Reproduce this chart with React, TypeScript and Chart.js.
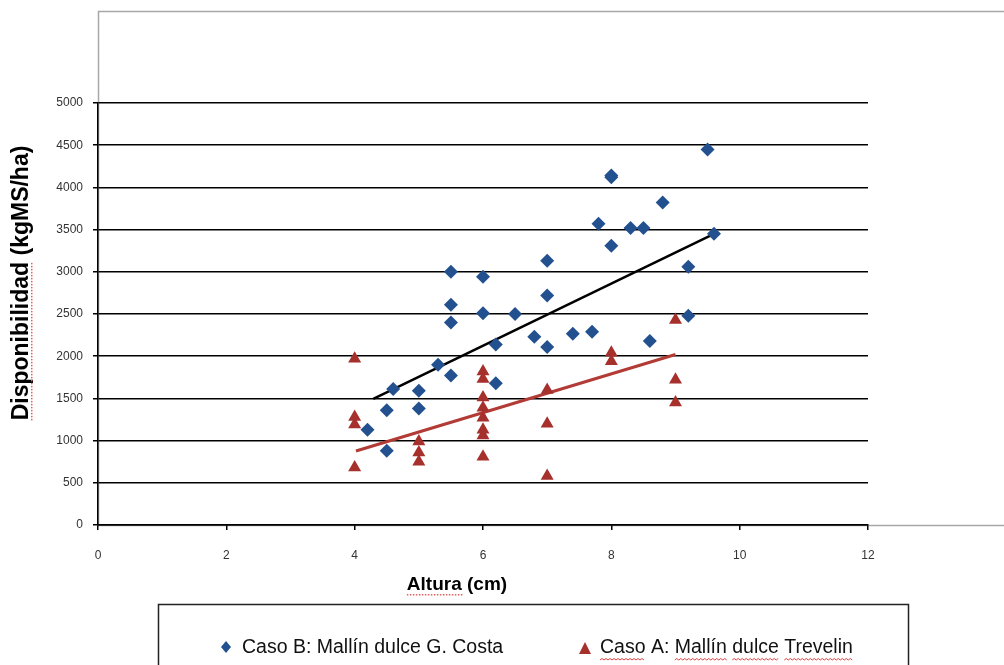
import React, { useEffect, useRef } from "react";
import { Chart, registerables } from "chart.js";

Chart.register(...registerables);

// ---- Data ----
const casoBX = [4.2, 4.5, 4.5, 4.6, 5, 5, 5.3, 5.5, 5.5, 5.5, 5.5, 6, 6, 6.2, 6.2, 6.5, 6.8, 7, 7, 7, 7.4, 7.7, 7.8, 8, 8, 8, 8.3, 8.5, 8.6, 8.8, 9.2, 9.2, 9.5, 9.6];
const casoBY = [1130, 880, 1360, 1610, 1380, 1590, 1900, 1770, 2400, 2610, 3000, 2510, 2940, 2140, 1680, 2500, 2230, 2110, 2720, 3130, 2265, 2290, 3570, 3310, 4120, 4140, 3520, 3520, 2180, 3820, 3060, 2480, 4450, 3450];

const casoAX = [4, 4, 4, 4, 5, 5, 5, 6, 6, 6, 6, 6, 6, 6, 6, 7, 7, 7, 8, 8, 9, 9, 9];
const casoAY = [1970, 1280, 1190, 680, 990, 860, 750, 1820, 1730, 1510, 1390, 1270, 1130, 1060, 810, 1600, 1200, 580, 2040, 1940, 2430, 1720, 1450];

const trendBX = [4.29, 9.6];
const trendBY = [1495, 3450];
const trendAX = [4.02, 9.0];
const trendAY = [877, 2020];

const xTicks = [0, 2, 4, 6, 8, 10, 12];
const yTicks = [0, 500, 1000, 1500, 2000, 2500, 3000, 3500, 4000, 4500, 5000];

const seriesLabels = ["Caso B: Mallín dulce G. Costa", "Caso A: Mallín dulce Trevelin"];
const xTitle = "Altura (cm)";
const yTitle = "Disponibilidad (kgMS/ha)";

const BLUE = "#23518f";
const RED = "#a5302c";
const RED_LINE = "#b23b36";
const FONT = "'Liberation Sans', Arial, sans-serif";

function wavy(ctx: CanvasRenderingContext2D, x0: number, x1: number, y: number) {
  ctx.save();
  ctx.strokeStyle = "#e04040";
  ctx.lineWidth = 1;
  ctx.beginPath();
  let up = true;
  ctx.moveTo(x0, y);
  for (let x = x0 + 2; x <= x1; x += 2) {
    ctx.lineTo(x, up ? y - 1.5 : y);
    up = !up;
  }
  ctx.stroke();
  ctx.restore();
}

function dotted(ctx: CanvasRenderingContext2D, x0: number, x1: number, y: number) {
  ctx.save();
  ctx.fillStyle = "#e06060";
  for (let x = x0; x <= x1; x += 3) ctx.fillRect(x, y, 1.5, 1.5);
  ctx.restore();
}

const decorPlugin = {
  id: "decor",
  beforeDraw(chart: any) {
    const ctx = chart.ctx;
    ctx.save();
    ctx.strokeStyle = "#a8a8a8";
    ctx.lineWidth = 1.5;
    ctx.strokeRect(98.5, 11.5, 1100, 514);
    ctx.restore();
  },
  afterDraw(chart: any) {
    const ctx: CanvasRenderingContext2D = chart.ctx;
    ctx.save();
    // x title
    ctx.fillStyle = "#000";
    ctx.font = `bold 19px ${FONT}`;
    ctx.textAlign = "center";
    ctx.textBaseline = "middle";
    ctx.fillText(xTitle, 457, 585);
    {
      const w = ctx.measureText(xTitle).width;
      const wA = ctx.measureText("Altura").width;
      const x0 = 457 - w / 2;
      dotted(ctx, x0, x0 + wA, 594);
    }

    // y title
    ctx.save();
    ctx.translate(22, 283);
    ctx.rotate(-Math.PI / 2);
    ctx.font = `bold 23px ${FONT}`;
    ctx.fillText(yTitle, 0, 0);
    {
      const w = ctx.measureText(yTitle).width;
      const wD = ctx.measureText("Disponibilidad").width;
      const x0 = -w / 2;
      dotted(ctx, x0, x0 + wD, 9);
    }
    ctx.restore();

    // legend box
    ctx.strokeStyle = "#222";
    ctx.lineWidth = 1.5;
    ctx.strokeRect(158.5, 604.5, 750, 100);

    // legend markers
    ctx.fillStyle = BLUE;
    ctx.beginPath();
    ctx.moveTo(226, 641);
    ctx.lineTo(231, 647);
    ctx.lineTo(226, 653);
    ctx.lineTo(221, 647);
    ctx.closePath();
    ctx.fill();

    ctx.fillStyle = RED;
    ctx.beginPath();
    ctx.moveTo(585, 642);
    ctx.lineTo(591, 654);
    ctx.lineTo(579, 654);
    ctx.closePath();
    ctx.fill();

    ctx.fillStyle = "#111";
    ctx.font = `19.5px ${FONT}`;
    ctx.textAlign = "left";
    ctx.textBaseline = "middle";
    ctx.fillText(seriesLabels[0], 242, 648);
    ctx.fillText(seriesLabels[1], 600, 648);
    {
      const t = seriesLabels[1];
      const words = ["Caso", "Mallín", "dulce", "Trevelin"];
      let searchFrom = 0;
      for (const wd of words) {
        const idx = t.indexOf(wd, searchFrom);
        searchFrom = idx + wd.length;
        const xs = 600 + ctx.measureText(t.slice(0, idx)).width;
        const xe = xs + ctx.measureText(wd).width;
        wavy(ctx, xs, xe, 660);
      }
    }
    ctx.restore();
  },
};

export default function App() {
  const ref = useRef<HTMLCanvasElement>(null);

  useEffect(() => {
    const canvas = ref.current;
    if (!canvas) return;
    const chart = new Chart(canvas, {
      type: "scatter",
      data: {
        datasets: [
          {
            label: "trendB",
            data: trendBX.map((x, i) => ({ x, y: trendBY[i] })),
            showLine: true,
            borderColor: "#000",
            borderWidth: 2.5,
            pointRadius: 0,
            fill: false,
            order: 3,
          },
          {
            label: "trendA",
            data: trendAX.map((x, i) => ({ x, y: trendAY[i] })),
            showLine: true,
            borderColor: RED_LINE,
            borderWidth: 3,
            pointRadius: 0,
            fill: false,
            order: 3,
          },
          {
            label: seriesLabels[0],
            data: casoBX.map((x, i) => ({ x, y: casoBY[i] })),
            pointStyle: "rectRot",
            pointRadius: 7,
            backgroundColor: BLUE,
            borderColor: BLUE,
            borderWidth: 0,
            order: 1,
          },
          {
            label: seriesLabels[1],
            data: casoAX.map((x, i) => ({ x, y: casoAY[i] })),
            pointStyle: "triangle",
            pointRadius: 7.5,
            backgroundColor: RED,
            borderColor: RED,
            borderWidth: 0,
            order: 2,
          },
        ],
      },
      options: {
        responsive: false,
        animation: false,
        devicePixelRatio: 1,
        layout: { padding: { left: 0, top: 103, right: 136, bottom: 0 } },
        plugins: {
          legend: { display: false },
          tooltip: { enabled: false },
        },
        scales: {
          x: {
            type: "linear",
            min: 0,
            max: 12,
            afterBuildTicks: (s: any) => {
              s.ticks = xTicks.map((v) => ({ value: v }));
            },
            afterFit: (s: any) => {
              s.height = 140;
            },
            grid: {
              drawOnChartArea: false,
              drawTicks: true,
              tickLength: 5,
              color: "#000",
              lineWidth: 1.5,
            },
            border: { display: true, color: "#000", width: 1.5 },
            ticks: {
              padding: 18,
              maxRotation: 0,
              color: "#333",
              font: { family: FONT, size: 12 },
              callback: (v: any) => String(v),
            },
          },
          y: {
            type: "linear",
            min: 0,
            max: 5000,
            afterBuildTicks: (s: any) => {
              s.ticks = yTicks.map((v) => ({ value: v }));
            },
            afterFit: (s: any) => {
              s.width = 98;
            },
            grid: {
              drawTicks: true,
              tickLength: 5,
              color: "#000",
              lineWidth: 1.5,
            },
            border: { display: true, color: "#000", width: 1.5 },
            ticks: {
              padding: 10,
              color: "#333",
              font: { family: FONT, size: 12 },
              callback: (v: any) => String(v),
            },
          },
        },
      },
      plugins: [decorPlugin],
    } as any);
    return () => chart.destroy();
  }, []);

  return (
    <div style={{ position: "absolute", left: 0, top: 0, width: 1004, height: 665, background: "#fff", overflow: "hidden" }}>
      <canvas ref={ref} width={1004} height={665} style={{ width: 1004, height: 665, display: "block" }} />
    </div>
  );
}
